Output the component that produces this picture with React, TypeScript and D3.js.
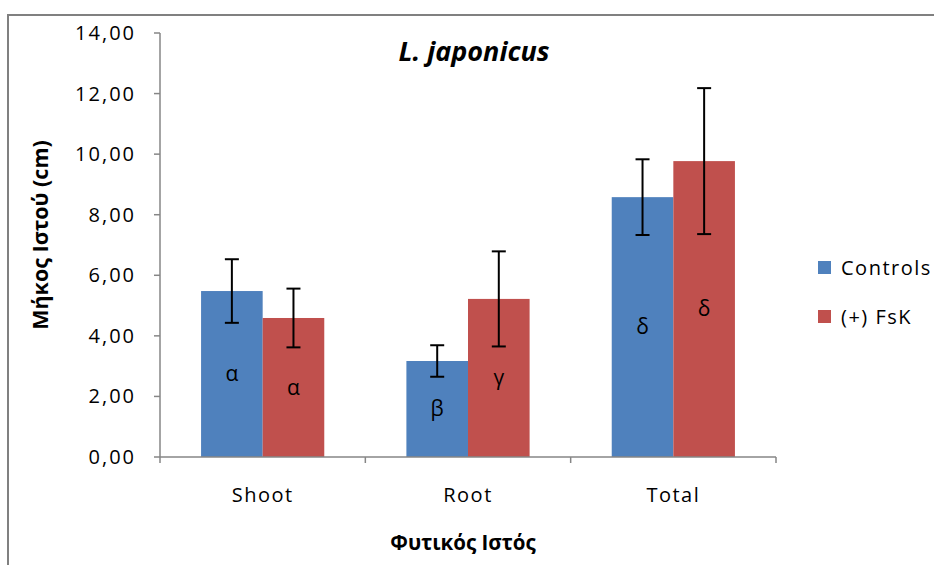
import React from "react";
import * as d3 from "d3";

const categories = ["Shoot", "Root", "Total"];
const seriesNames = ["Controls", "(+) FsK"];
const controls = [5.48, 3.17, 8.58];
const fsk = [4.59, 5.22, 9.77];
const controlsErr = [1.05, 0.52, 1.25];
const fskErr = [0.97, 1.57, 2.41];
const controlsLetters = ["α", "β", "δ"];
const fskLetters = ["α", "γ", "δ"];
const yTicks = [0, 2, 4, 6, 8, 10, 12, 14];
const colors = ["#4F81BD", "#C0504D"];

const W = 934;
const H = 565;
const left = 160;
const right = 776;
const top = 33;
const bottom = 457;
const font = "'Open Sans', sans-serif";

export default function App() {
  const y = d3.scaleLinear().domain([0, 14]).range([bottom, top]);
  const x = d3.scaleBand().domain(categories).range([left, right]).paddingInner(0.4).paddingOuter(0.2);
  const inner = d3.scaleBand().domain(seriesNames).range([0, x.bandwidth()]);
  const fmt = (v: number) => d3.format(".2f")(v).replace(".", ",");
  const series = [
    { name: seriesNames[0], vals: controls, err: controlsErr, letters: controlsLetters, color: colors[0] },
    { name: seriesNames[1], vals: fsk, err: fskErr, letters: fskLetters, color: colors[1] },
  ];
  const axisColor = "#868686";
  const step = (right - left) / categories.length;
  return (
    <svg width={W} height={H} style={{ position: "fixed", left: 0, top: 0, background: "#fff" }} fontFamily={font}>
      <rect x={8} y={15} width={W + 20} height={H + 20} fill="#fff" stroke="#808080" strokeWidth={2} />
      <text x={474} y={52} dy="0.35em" textAnchor="middle" fontSize={27} fontWeight="bold" fontStyle="italic">L. japonicus</text>
      {yTicks.map((t) => (
        <g key={t}>
          <line x1={left - 6} x2={left} y1={y(t)} y2={y(t)} stroke={axisColor} strokeWidth={1.5} />
          <text x={left - 24} y={y(t)} dy="0.35em" textAnchor="end" fontSize={20} letterSpacing={2}>{fmt(t)}</text>
        </g>
      ))}
      {series.map((s) =>
        categories.map((c, ci) => {
          const bx = (x(c) as number) + (inner(s.name) as number);
          const bw = inner.bandwidth();
          const v = s.vals[ci];
          return <rect key={s.name + c} x={bx} y={y(v)} width={bw} height={bottom - y(v)} fill={s.color} />;
        })
      )}
      {series.map((s) =>
        categories.map((c, ci) => {
          const bx = (x(c) as number) + (inner(s.name) as number);
          const bw = inner.bandwidth();
          const cx = bx + bw / 2;
          const v = s.vals[ci];
          const e = s.err[ci];
          return (
            <g key={"e" + s.name + c}>
              <line x1={cx} x2={cx} y1={y(v + e)} y2={y(v - e)} stroke="#000" strokeWidth={2} />
              <line x1={cx - 7} x2={cx + 7} y1={y(v + e)} y2={y(v + e)} stroke="#000" strokeWidth={2} />
              <line x1={cx - 7} x2={cx + 7} y1={y(v - e)} y2={y(v - e)} stroke="#000" strokeWidth={2} />
              <text x={cx} y={y(v / 2)} dy="0.35em" textAnchor="middle" fontSize={21}>{s.letters[ci]}</text>
            </g>
          );
        })
      )}
      <line x1={left} x2={left} y1={top} y2={bottom} stroke={axisColor} strokeWidth={1.5} />
      <line x1={left} x2={right} y1={bottom} y2={bottom} stroke={axisColor} strokeWidth={1.5} />
      {d3.range(categories.length + 1).map((i) => (
        <line key={i} x1={left + i * step} x2={left + i * step} y1={bottom} y2={bottom + 6} stroke={axisColor} strokeWidth={1.5} />
      ))}
      {categories.map((c) => (
        <text key={c} x={(x(c) as number) + x.bandwidth() / 2} y={495} dy="0.35em" textAnchor="middle" fontSize={20} letterSpacing={1.5}>{c}</text>
      ))}
      <text x={463} y={543} dy="0.35em" textAnchor="middle" fontSize={20.5} fontWeight="bold">Φυτικός Ιστός</text>
      <text transform={`translate(40,235) rotate(-90)`} dy="0.35em" textAnchor="middle" fontSize={21.5} fontWeight="bold">Μήκος Ιστού (cm)</text>
      {seriesNames.map((n, i) => (
        <g key={n} transform={`translate(818,${261 + i * 49})`}>
          <rect x={0} y={0} width={13} height={13} fill={colors[i]} />
          <text x={23} y={7} dy="0.35em" fontSize={20} letterSpacing={1.5}>{n}</text>
        </g>
      ))}
    </svg>
  );
}
